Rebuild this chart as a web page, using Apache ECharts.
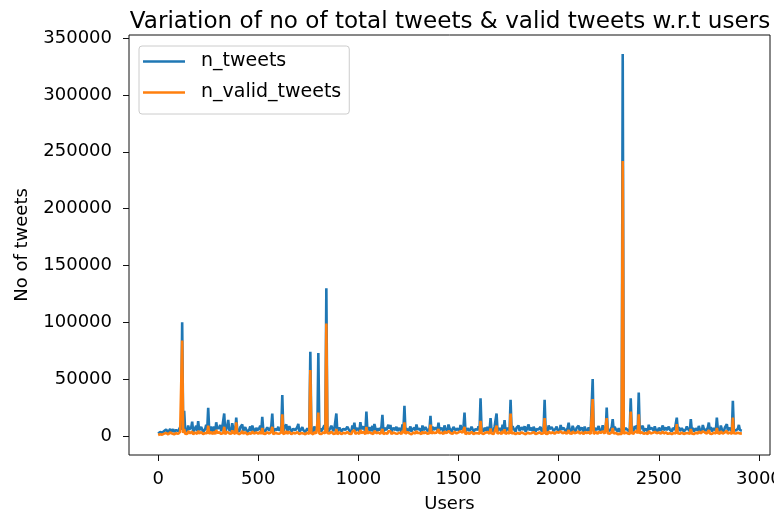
<!DOCTYPE html>
<html>
<head>
<meta charset="utf-8">
<title>Tweets per user</title>
<script src="https://cdn.jsdelivr.net/npm/echarts@6/dist/echarts.min.js"></script>
<style>
  html, body { margin: 0; padding: 0; background: #fff; }
  #chart { width: 774px; height: 514px; }
</style>
</head>
<body>
<div id="chart"></div>
<script>
// Users are sampled every USER_STEP rows of the table.
const USER_STEP = 5;

// Total tweets per user (one row of 20 values = 100 users)
const nTweets = [
  2100, 1600, 3400, 4100, 2800, 2300, 4200, 3300, 5600, 4400, 3100, 2500, 6200, 3700, 4800, 5900, 3500, 2900, 5200, 3800,
  4100, 2800, 7800, 5400, 100000, 6300, 22000, 4700, 6400, 3900, 9200, 5600, 5100, 7300, 12600, 3600, 4300, 6900, 8800, 4200,
  13100, 4800, 5200, 7900, 7400, 3400, 4600, 6100, 9800, 5300, 24700, 4400, 6100, 8300, 3800, 5700, 8200, 3200, 12000, 6600,
  5400, 7100, 9600, 4100, 7100, 5800, 19700, 3500, 4800, 8700, 14000, 5200, 6300, 4400, 11200, 6800, 8400, 3900, 16100, 5500,
  5200, 3600, 7600, 6100, 10100, 4300, 4400, 7700, 6800, 3100, 3900, 5600, 8300, 4200, 9100, 6400, 5100, 2900, 7200, 4800,
  4600, 6800, 8900, 3700, 16800, 5100, 6200, 4000, 3700, 7500, 7900, 4600, 5300, 8400, 19700, 3300, 4100, 6200, 6600, 5000,
  8100, 4500, 5400, 7000, 36000, 3800, 6900, 5500, 10200, 4100, 4700, 8600, 7300, 3500, 3900, 6400, 6100, 4900, 5200, 7800,
  10500, 3700, 4300, 6000, 7800, 5100, 5600, 3400, 3600, 6700, 6400, 4200, 74000, 5800, 4900, 3300, 8200, 6100, 5100, 4400,
  73000, 4600, 6600, 3900, 4200, 7200, 9400, 5300, 130000, 6000, 3800, 4700, 7100, 8900, 10400, 4200, 6200, 5000, 19700, 3600,
  5100, 7400, 8600, 3800, 4400, 6300, 7300, 5200, 3900, 8100, 6800, 4500, 5600, 3700, 9200, 6200, 11700, 4300, 4800, 6900,
  7600, 4000, 12100, 5800, 5300, 8300, 9400, 3600, 21400, 4900, 6200, 7600, 4100, 5400, 8800, 3900, 10500, 6700, 5700, 4200,
  6900, 5000, 4300, 7800, 18500, 3700, 7200, 5900, 5100, 4100, 9800, 6400, 9700, 3800, 4600, 7000, 6300, 5200, 8100, 4400,
  5400, 6900, 7900, 3900, 10200, 5600, 26400, 4300, 6600, 8000, 4200, 5100, 8300, 3600, 5800, 7100, 7100, 4700, 10000, 5900,
  4800, 6200, 6700, 3800, 9100, 5000, 5300, 7700, 7600, 4200, 4100, 6100, 17600, 3900, 8200, 5300, 5900, 7400, 6800, 4500,
  11700, 5100, 4700, 7200, 7400, 3800, 9300, 6000, 5600, 4400, 10000, 6800, 6100, 3700, 4300, 7900, 8700, 5000, 5200, 6400,
  7300, 4100, 9600, 5500, 6400, 8200, 20500, 3600, 4900, 6700, 7800, 4300, 5500, 8100, 8900, 3900, 4200, 6000, 6600, 5300,
  8400, 4700, 33200, 5900, 5800, 3900, 7100, 6500, 4600, 8000, 9300, 4200, 15600, 5400, 6200, 3800, 8100, 7200, 19700, 4400,
  5300, 6900, 7600, 4000, 9900, 5600, 13800, 3700, 4900, 7100, 6800, 4500, 31700, 5000, 8400, 6300, 5600, 3800, 7300, 6100,
  9100, 4200, 4700, 7500, 6900, 5200, 8600, 3600, 5400, 6600, 10100, 4800, 7200, 5700, 4400, 8000, 8800, 3900, 6100, 5500,
  5700, 7300, 7900, 4100, 4800, 6000, 31700, 4700, 6600, 3800, 9200, 5900, 5300, 7800, 7400, 4300, 4500, 6500, 8300, 5100,
  6200, 4000, 9600, 5700, 5100, 7200, 7700, 3700, 4300, 6900, 11700, 5300, 6800, 4100, 8900, 6300, 5500, 3900, 7100, 5600,
  9000, 4600, 4600, 7400, 6400, 3800, 8200, 5500, 5800, 4700, 7500, 6600, 4100, 5200, 50000, 3900, 6900, 7900, 5200, 4300,
  8700, 5100, 6300, 4500, 9400, 6200, 4700, 3800, 25000, 5400, 7100, 4400, 5600, 7700, 14700, 4900, 8000, 6100, 4400, 3600,
  6800, 4200, 5200, 3900, 336000, 4600, 4800, 6900, 7400, 5100, 6100, 3700, 33200, 5800, 5500, 4400, 8600, 6000, 9300, 5200,
  38200, 4800, 6700, 7700, 8900, 4100, 5300, 6400, 7600, 3800, 9800, 5900, 4900, 7000, 6200, 4500, 8400, 5500, 5700, 3900,
  7200, 6100, 4500, 3800, 9100, 5000, 6300, 7400, 5000, 4200, 8100, 5600, 4200, 3700, 6900, 6200, 5400, 4600, 16100, 5300,
  7800, 4300, 5100, 6800, 6600, 3900, 4400, 5700, 8300, 6100, 5900, 4200, 14700, 5000, 7000, 3800, 4800, 6500, 6400, 4700,
  8800, 5500, 5300, 4000, 9600, 6400, 6900, 4300, 4700, 7200, 11700, 5100, 7700, 3900, 5600, 6800, 8400, 4600, 16100, 5800,
  6100, 4400, 9200, 5700, 4900, 3800, 7300, 6200, 10400, 4500, 5800, 7100, 8100, 3900, 30900, 5300, 6700, 4800, 5200, 6300,
  9700, 5100, 3800, 4600
];

// Valid tweets per user (one row of 20 values = 100 users)
const nValidTweets = [
  800, 600, 1500, 1900, 1100, 900, 2000, 1400, 2600, 1800, 1300, 1000, 3000, 1500, 2100, 2700, 1400, 1200, 2400, 1600,
  1800, 1200, 3500, 2300, 84000, 2600, 6000, 2000, 2700, 1600, 4100, 2400, 2200, 3200, 4000, 1500, 1900, 3000, 3800, 1800,
  4500, 2100, 2300, 3400, 3300, 1500, 1900, 2600, 4200, 2300, 9000, 1900, 2600, 3600, 1600, 2500, 3600, 1400, 5200, 2900,
  2300, 3100, 4300, 1800, 3100, 2500, 8000, 1500, 2000, 3800, 5000, 2200, 2700, 1900, 4800, 2900, 3600, 1700, 12000, 2400,
  2200, 1600, 3300, 2600, 4400, 1800, 1800, 3300, 2900, 1300, 1600, 2400, 3600, 1800, 3900, 2800, 2100, 1200, 3100, 2100,
  1900, 2900, 3800, 1600, 7000, 2200, 2700, 1700, 1500, 3200, 3400, 2000, 2300, 3600, 8000, 1400, 1700, 2700, 2800, 2200,
  3500, 1900, 2300, 3000, 19000, 1600, 3000, 2400, 4400, 1800, 2000, 3700, 3100, 1500, 1600, 2800, 2600, 2100, 2200, 3400,
  4500, 1600, 1800, 2600, 3400, 2200, 2400, 1500, 1500, 2900, 2800, 1800, 58000, 2500, 2100, 1400, 3500, 2600, 2200, 1900,
  20500, 2000, 2800, 1700, 1800, 3100, 4000, 2300, 99000, 2600, 1600, 2000, 3000, 3800, 4500, 1800, 2700, 2200, 6000, 1500,
  2200, 3200, 3700, 1600, 1900, 2700, 3100, 2200, 1600, 3500, 2900, 1900, 2400, 1600, 4000, 2700, 5000, 1800, 2000, 3000,
  3300, 1700, 5200, 2500, 2300, 3600, 4000, 1500, 8000, 2100, 2700, 3300, 1700, 2300, 3800, 1700, 4500, 2900, 2400, 1800,
  3000, 2200, 1800, 3400, 6000, 1600, 3100, 2500, 2200, 1800, 4200, 2800, 4100, 1600, 1900, 3000, 2700, 2200, 3500, 1900,
  2300, 3000, 3400, 1700, 4400, 2400, 12000, 1800, 2800, 3400, 1800, 2200, 3600, 1500, 2500, 3100, 3000, 2000, 4300, 2500,
  2000, 2700, 2900, 1600, 3900, 2100, 2300, 3300, 3300, 1800, 1700, 2600, 10000, 1700, 3500, 2300, 2500, 3200, 2900, 1900,
  6000, 2200, 2000, 3100, 3200, 1600, 4000, 2600, 2400, 1900, 4300, 2900, 2600, 1600, 1800, 3400, 3700, 2100, 2200, 2800,
  3100, 1800, 4100, 2400, 2700, 3500, 8000, 1500, 2100, 2900, 3400, 1800, 2300, 3500, 3800, 1700, 1800, 2600, 2800, 2300,
  3600, 2000, 13200, 2500, 2500, 1700, 3100, 2800, 2000, 3400, 4000, 1800, 6500, 2300, 2700, 1600, 3500, 3100, 9000, 1900,
  2300, 3000, 3300, 1700, 4300, 2400, 5900, 1600, 2100, 3100, 2900, 1900, 19700, 2100, 3600, 2700, 2400, 1600, 3100, 2600,
  3900, 1800, 2000, 3200, 3000, 2200, 3700, 1500, 2300, 2800, 4400, 2100, 3100, 2400, 1900, 3400, 3800, 1700, 2600, 2400,
  2400, 3100, 3400, 1800, 2000, 2600, 15600, 2000, 2800, 1600, 4000, 2500, 2300, 3300, 3200, 1800, 1900, 2800, 3600, 2200,
  2700, 1700, 4100, 2400, 2200, 3100, 3300, 1600, 1800, 3000, 5000, 2300, 2900, 1800, 3800, 2700, 2300, 1700, 3000, 2400,
  3900, 2000, 2000, 3200, 2700, 1600, 3500, 2400, 2500, 2000, 3200, 2800, 1700, 2200, 32400, 1700, 3000, 3400, 2200, 1800,
  3700, 2200, 2700, 1900, 4000, 2700, 2000, 1600, 15600, 2300, 3100, 1900, 2400, 3300, 7000, 2100, 3400, 2600, 1900, 1500,
  2900, 1800, 2200, 1700, 242000, 2000, 2000, 3000, 3200, 2200, 2600, 1600, 21400, 2500, 2300, 1900, 3700, 2600, 4000, 2200,
  19100, 2100, 2900, 3300, 3800, 1800, 2300, 2700, 3300, 1600, 4200, 2500, 2100, 3000, 2700, 1900, 3600, 2400, 2400, 1700,
  3100, 2600, 1900, 1600, 3900, 2100, 2700, 3200, 2100, 1800, 3500, 2400, 1800, 1600, 3000, 2700, 2300, 2000, 10300, 2300,
  3400, 1800, 2200, 2900, 2800, 1700, 1900, 2400, 3600, 2600, 2500, 1800, 6000, 2100, 3000, 1600, 2000, 2800, 2700, 2000,
  3800, 2400, 2300, 1700, 4100, 2700, 3000, 1800, 2000, 3100, 5000, 2200, 3300, 1700, 2400, 2900, 3600, 2000, 7000, 2500,
  2600, 1900, 4000, 2400, 2100, 1600, 3100, 2700, 4500, 1900, 2500, 3000, 3500, 1700, 16100, 2300, 2900, 2100, 2200, 2700,
  3000, 2200, 1500, 2000
];

const seriesNames = ['n_tweets', 'n_valid_tweets'];
const xTicks = [0, 500, 1000, 1500, 2000, 2500, 3000];
const yTicks = [0, 50000, 100000, 150000, 200000, 250000, 300000, 350000];

const FONT = 'DejaVu Sans';
const toPairs = vals => vals.map((v, i) => [i * USER_STEP, v]);
const plainNumber = v => String(v);

const chart = echarts.init(document.getElementById('chart'), null, { renderer: 'canvas' });

chart.setOption({
  animation: false,
  backgroundColor: '#ffffff',
  textStyle: { fontFamily: FONT },
  title: {
    text: 'Variation of no of total tweets & valid tweets w.r.t users',
    left: 445,
    top: 5,
    textAlign: 'center',
    textStyle: { fontFamily: FONT, fontSize: 23.1, fontWeight: 'normal', color: '#000' }
  },
  grid: {
    left: 129, right: 4, top: 35, bottom: 59,
    outerBoundsMode: 'none',
    containLabel: false,
    show: true, borderColor: '#111', borderWidth: 1, backgroundColor: 'transparent'
  },
  legend: {
    data: seriesNames,
    orient: 'vertical',
    left: 139, top: 46,
    icon: 'rect',
    itemWidth: 42, itemHeight: 2.4,
    itemGap: 12,
    padding: [6, 8, 12, 4],
    borderColor: '#cccccc', borderWidth: 1, borderRadius: 3,
    backgroundColor: 'rgba(255,255,255,0.8)',
    textStyle: { fontFamily: FONT, fontSize: 19, color: '#000', padding: [0, 0, 0, 11] }
  },
  xAxis: {
    type: 'value',
    min: -145.5, max: 3055.5,
    name: 'Users', nameLocation: 'middle', nameGap: 40,
    nameTextStyle: { fontFamily: FONT, fontSize: 18, color: '#000' },
    splitLine: { show: false },
    axisLine: { show: false, onZero: false },
    axisTick: { show: true, customValues: xTicks, length: 6, lineStyle: { color: '#111', width: 1 } },
    axisLabel: { customValues: xTicks, formatter: plainNumber, margin: 15, fontFamily: FONT, fontSize: 18, color: '#000' }
  },
  yAxis: {
    type: 'value',
    min: -16800, max: 352800,
    name: 'No of tweets', nameLocation: 'middle', nameGap: 98,
    nameTextStyle: { fontFamily: FONT, fontSize: 18, color: '#000' },
    splitLine: { show: false },
    axisLine: { show: false, onZero: false },
    axisTick: { show: true, customValues: yTicks, length: 6, lineStyle: { color: '#111', width: 1 } },
    axisLabel: { customValues: yTicks, formatter: plainNumber, margin: 17, fontFamily: FONT, fontSize: 18, color: '#000' }
  },
  series: [
    {
      name: seriesNames[0], type: 'line', data: toPairs(nTweets),
      showSymbol: false, symbol: 'none', color: '#1f77b4',
      lineStyle: { width: 2.6, color: '#1f77b4' }
    },
    {
      name: seriesNames[1], type: 'line', data: toPairs(nValidTweets),
      showSymbol: false, symbol: 'none', color: '#ff7f0e',
      lineStyle: { width: 2.6, color: '#ff7f0e' }
    }
  ]
});
</script>
</body>
</html>
